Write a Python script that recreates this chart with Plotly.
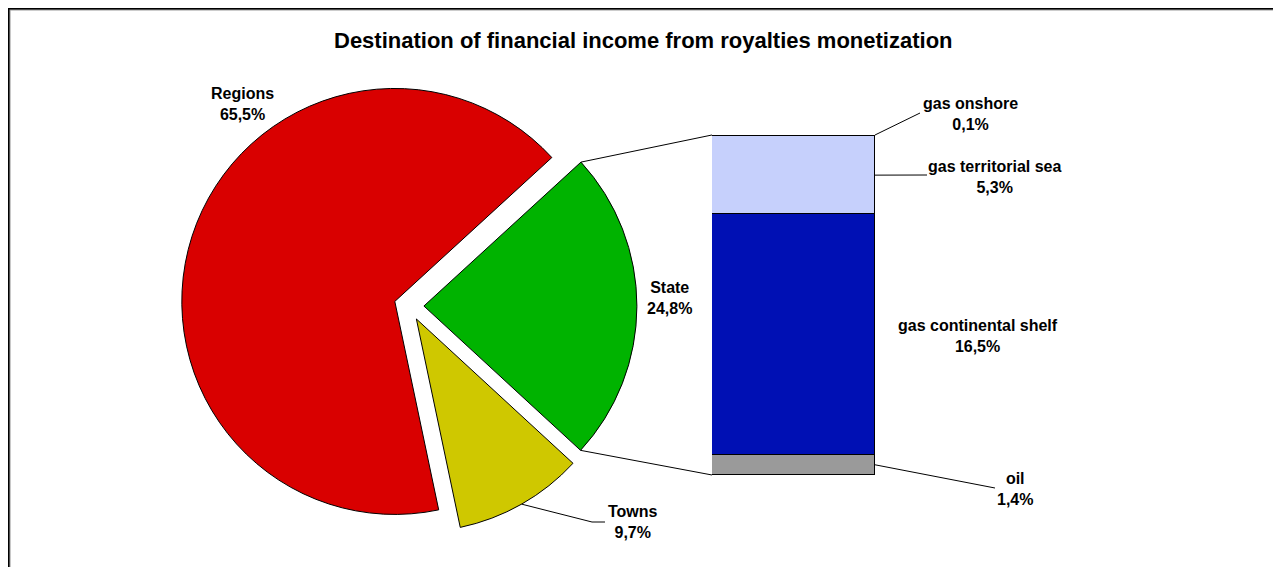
import math
import plotly.graph_objects as go

# ---- data (percent values as shown on the chart) ----
pie_labels = ["Regions", "State", "Towns"]
pie_pct = [65.5, 24.8, 9.7]

# breakdown of the "State" slice, listed bottom -> top of the bar
bar_labels = ["oil", "gas continental shelf", "gas territorial sea", "gas onshore"]
bar_pct = [1.4, 16.5, 5.3, 0.1]

title = "Destination of financial income from royalties monetization"

# ---- layout geometry (pixels of the page screenshot) ----
W, H = 1281, 567
OFF = 8                   # page body margin
FW, FH = W - OFF, H - OFF
PIE_CX, PIE_CY, PIE_R = 409, 306, 213
PULL = 0.07
ROTATION = 47.5           # State slice starts here (clockwise from 12 o'clock)
BAR_X0, BAR_X1 = 712, 875
BAR_TOP, BAR_BOT = 135, 475

FONT = "Liberation Sans, Arial, sans-serif"

pie_colors = {"Regions": "#d90000", "State": "#00b300", "Towns": "#cfc800"}
bar_colors = ["#9a9a9a", "#0010b4", "#c6d0fc", "#3a5cff"]


def px(x, y):
    """page pixel -> paper coordinates"""
    return (x - OFF) / FW, 1 - (y - OFF) / FH


def fmt(v):
    return f"{v:.1f}".replace(".", ",") + "%"


# pie slice sizes: the State slice is the sum of its breakdown (as drawn)
state_total = sum(bar_pct)
slice_vals = {"Regions": pie_pct[0], "State": state_total, "Towns": pie_pct[2]}
order = ["State", "Towns", "Regions"]
total_val = sum(slice_vals.values())

fig = go.Figure()

box = PIE_R * 2 * (1 + PULL)
dx0, dy1 = px(PIE_CX - box / 2, PIE_CY - box / 2)
dx1, dy0 = px(PIE_CX + box / 2, PIE_CY + box / 2)

fig.add_trace(go.Pie(
    labels=order,
    values=[slice_vals[k] for k in order],
    sort=False,
    direction="clockwise",
    rotation=ROTATION,
    pull=PULL,
    marker=dict(colors=[pie_colors[k] for k in order],
                line=dict(color="black", width=1)),
    textinfo="none",
    hoverinfo="label+percent",
    domain=dict(x=[dx0, dx1], y=[dy0, dy1]),
    showlegend=False,
))

# stacked bar for the State breakdown
for lab, val, col in zip(bar_labels, bar_pct, bar_colors):
    fig.add_trace(go.Bar(
        x=[0], y=[val], width=1,
        name=lab,
        marker=dict(color=col, line=dict(color="black", width=1)),
        showlegend=False,
    ))

# ---- slice geometry (math angles, degrees) ----
angles = {}
a = 90 - ROTATION
for k in order:
    span = slice_vals[k] / total_val * 360
    angles[k] = (a, a - span)
    a -= span


def slice_center(k):
    a0, a1 = angles[k]
    am = math.radians((a0 + a1) / 2)
    return PIE_CX + PULL * PIE_R * math.cos(am), PIE_CY - PULL * PIE_R * math.sin(am)


def arc_point(k, ang):
    cx, cy = slice_center(k)
    r = math.radians(ang)
    return cx + PIE_R * math.cos(r), cy - PIE_R * math.sin(r)


def bar_y(v):
    return BAR_BOT - v / state_total * (BAR_BOT - BAR_TOP)


shapes = []


def line(points, width=1, color="black"):
    path = "M " + " L ".join("{:.5f},{:.5f}".format(*px(x, y)) for x, y in points)
    shapes.append(dict(type="path", path=path, xref="paper", yref="paper",
                       line=dict(color=color, width=width)))


# connectors pie -> bar
s0, s1 = angles["State"]
line([arc_point("State", s0), (BAR_X0, BAR_TOP)])
line([arc_point("State", s1), (BAR_X0, BAR_BOT)])

# leader lines
cum = [sum(bar_pct[:i]) for i in range(len(bar_pct) + 1)]
line([(BAR_X1, bar_y(cum[4])), (920, 113)])                               # gas onshore
line([(BAR_X1, bar_y((cum[2] + cum[3]) / 2)), (927, 175)])                # territorial sea
line([(BAR_X1, bar_y((cum[0] + cum[1]) / 2)), (995, 488)])                # oil
t0, t1 = angles["Towns"]
line([arc_point("Towns", (t0 + t1) / 2), (592, 522), (605, 522)])        # towns

# chart frame (top and left edges visible)
line([(9.8, H), (9.8, 9.8), (W, 9.8)], width=1.5, color="#9a9a9a")
line([(8.75, H), (8.75, 8.75), (W, 8.75)], width=1.5)

# ---- labels ----
label_pos = {
    "Regions": (242, 104),
    "State": (669, 298),
    "Towns": (633, 522),
    "gas onshore": (970, 114),
    "gas territorial sea": (995, 177),
    "gas continental shelf": (978, 336),
    "oil": (1015, 489),
}
annotations = []
for lab, val in list(zip(pie_labels, pie_pct)) + list(zip(bar_labels, bar_pct)):
    x, y = px(*label_pos[lab])
    annotations.append(dict(
        x=x, y=y, xref="paper", yref="paper",
        text=f"<b>{lab}<br>{fmt(val)}</b>",
        showarrow=False, xanchor="center", yanchor="middle", align="center",
        font=dict(family=FONT, size=16, color="black"),
    ))

tx, ty = px(643, 40)
annotations.append(dict(
    x=tx, y=ty, xref="paper", yref="paper",
    text=f"<b>{title}</b>", showarrow=False,
    xanchor="center", yanchor="middle",
    font=dict(family=FONT, size=22, color="black"),
))

bx0, by1 = px(BAR_X0, BAR_TOP)
bx1, by0 = px(BAR_X1, BAR_BOT)

fig.update_layout(
    width=FW, height=FH,
    margin=dict(l=0, r=0, t=0, b=0),
    paper_bgcolor="white",
    plot_bgcolor="rgba(0,0,0,0)",
    barmode="stack",
    bargap=0,
    xaxis=dict(domain=[bx0, bx1], range=[-0.5, 0.5], visible=False, fixedrange=True),
    yaxis=dict(domain=[by0, by1], range=[0, state_total], visible=False, fixedrange=True),
    shapes=shapes,
    annotations=annotations,
    font=dict(family=FONT),
)

fig.write_html("out.html")
